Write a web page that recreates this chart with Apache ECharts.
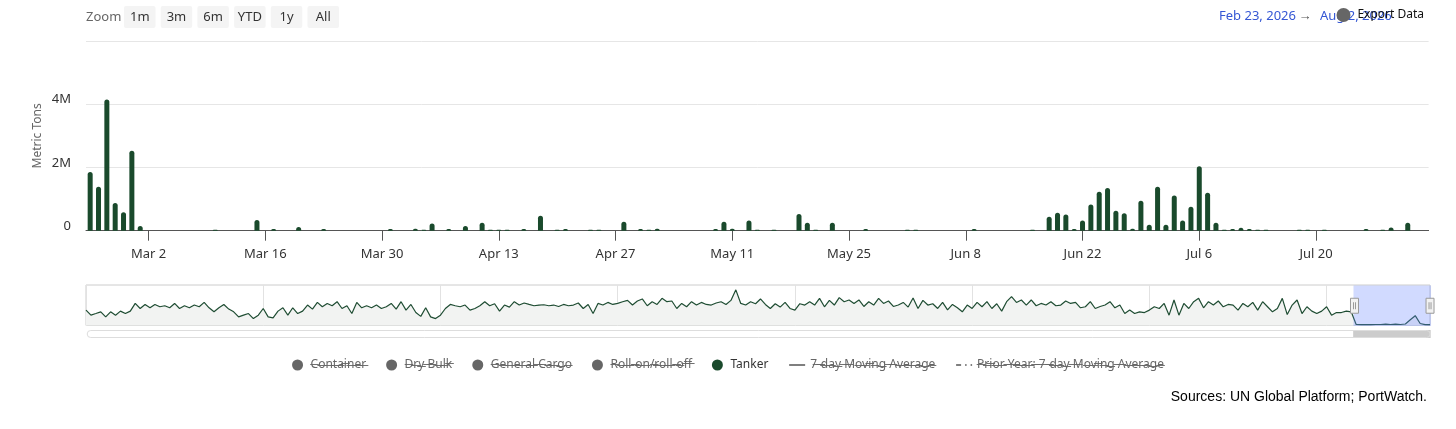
<!DOCTYPE html>
<html><head><meta charset="utf-8">
<script src="https://cdn.jsdelivr.net/npm/echarts@6/dist/echarts.min.js"></script>
<style>html,body{margin:0;padding:0;background:#fff}#chart{width:1456px;height:429px}</style>
</head><body><div id="chart"></div>
<script>
const FONT = "'Noto Sans', 'Open Sans', sans-serif";

// ---- main chart data (daily, million metric tons) ----
const startDate = '2026-02-23';
const dayCount = 161;
const tickLabels = ['Mar 2','Mar 16','Mar 30','Apr 13','Apr 27','May 11','May 25','Jun 8','Jun 22','Jul 6','Jul 20'];
const yTicks = [0, 2, 4, 6];
const tankerValues = [
  1.86,1.39,4.15,0.88,0.58,2.53,0.15,0,0,0,
  0,0,0,0,0,0.03,0,0,0,0,
  0.34,0,0.05,0,0,0.12,0,0,0.05,0,
  0,0,0,0,0,0,0.05,0,0,0.06,
  0.03,0.23,0,0.05,0,0.15,0,0.25,0.03,0.03,
  0.03,0,0.05,0,0.47,0,0.03,0.05,0,0,
  0.03,0.03,0,0,0.28,0,0.05,0.03,0.06,0,
  0,0,0,0,0,0.05,0.28,0.06,0,0.32,
  0.03,0,0.03,0,0,0.53,0.25,0.03,0,0.25,
  0,0,0,0.05,0,0,0,0,0.03,0.03,
  0,0,0,0,0,0,0.05,0,0,0,
  0,0,0,0.03,0,0.44,0.57,0.51,0.05,0.32,
  0.83,1.23,1.35,0.63,0.55,0.06,0.95,0.19,1.39,0.19,
  1.11,0.32,0.76,2.04,1.20,0.25,0.03,0.05,0.09,0.05,
  0.03,0.03,0,0,0,0.03,0.03,0,0.03,0,
  0,0,0,0.05,0,0.03,0.10,0,0.25,0,
  0
];

// ---- navigator data (1st/11th/21st of each month, 2019-01-01 .. 2026-08-01) ----
const navFirstYear = 2019;
const navLastDate = '2026-08-01';
const navValues = [
  1.52,1.02,1.18,1.35,0.85,1.35,1.02,1.42,1.18,1.42,
  2.18,1.68,2.08,1.75,2.08,1.85,1.95,1.75,2.18,1.68,
  1.95,1.75,2.02,1.85,2.28,1.75,1.35,1.75,2.08,1.62,
  1.35,0.85,1.02,1.18,0.68,1.02,1.68,0.85,0.75,1.42,
  1.75,1.02,1.75,1.18,1.42,2.02,1.62,2.28,1.85,2.18,
  1.95,2.35,1.68,1.95,1.18,2.28,1.75,1.95,1.75,2.02,
  1.68,1.85,2.18,1.62,2.35,1.52,2.08,1.28,0.90,1.75,
  0.85,0.68,1.02,1.68,2.08,1.95,1.85,2.02,1.52,1.68,
  1.95,2.35,1.95,2.15,1.42,2.02,1.82,2.35,2.02,2.22,
  2.08,1.95,2.02,2.05,1.95,2.02,1.88,2.08,1.95,2.02,
  2.22,1.68,2.08,1.18,2.18,2.02,2.28,2.08,2.18,2.35,
  2.48,2.02,2.42,2.62,1.95,2.35,2.08,2.68,2.35,2.42,
  1.68,2.18,1.85,2.35,2.02,2.28,2.08,2.02,2.22,2.35,
  2.08,2.48,3.52,2.18,2.02,2.35,2.15,2.62,2.08,1.68,
  2.15,1.82,2.28,1.68,1.52,2.15,2.02,2.35,2.02,2.68,
  1.85,2.48,2.02,2.75,2.35,2.52,2.18,2.52,1.88,2.35,
  2.02,2.68,2.18,2.42,1.88,2.02,2.28,1.82,2.72,1.68,
  2.48,2.02,2.15,1.68,2.28,1.55,2.08,1.75,1.35,2.02,
  1.68,2.28,1.85,2.35,1.68,2.15,1.42,2.35,2.85,2.28,
  2.52,2.02,2.52,1.95,2.18,2.02,2.35,1.95,2.02,2.42,
  2.18,2.28,1.75,1.85,2.35,1.68,1.88,2.02,2.35,1.75,
  2.02,1.18,1.52,1.18,1.35,1.28,1.52,1.85,1.68,2.18,
  1.02,2.52,1.02,2.18,1.68,2.35,2.68,1.75,2.35,2.02,
  2.42,1.85,2.08,2.02,1.52,2.18,1.85,2.28,1.52,2.35,
  1.85,1.35,1.68,2.68,1.08,2.02,2.52,1.18,1.85,1.42,
  1.18,1.42,1.85,1.02,1.28,1.28,1.42,1.35,0.10,0.08,
  0.10,0.08,0.10,0.10,0.13,0.10,0.13,0.10,0.15,0.57,
  0.97,0.20,0.08,0.08
];
const windowStart = '2026-02-23';
const windowEnd = '2026-08-02';

// ---- texts ----
const zoomButtons = ['1m','3m','6m','YTD','1y','All'];
const legendNames = ['Container','Dry Bulk','General Cargo','Roll-on/roll-off','Tanker','7-day Moving Average','Prior Year: 7-day Moving Average'];
const visibleSeries = ['Tanker'];
const rangeFrom = 'Feb 23, 2026';
const rangeTo = 'Aug 2, 2026';
const sourcesText = 'Sources: UN Global Platform; PortWatch.';

// ---- helpers ----
const MONTHS = ['Jan','Feb','Mar','Apr','May','Jun','Jul','Aug','Sep','Oct','Nov','Dec'];
const DAY = 86400000;
const toT = iso => Date.parse(iso + 'T00:00:00Z');
const isoDay = t => new Date(t).toISOString().slice(0, 10);
const shortLabel = iso => { const d = new Date(toT(iso)); return MONTHS[d.getUTCMonth()] + ' ' + d.getUTCDate(); };

const categories = [];
for (let k = 0; k < dayCount; k++) categories.push(isoDay(toT(startDate) + k * DAY));
const isTick = (i, v) => tickLabels.indexOf(shortLabel(v)) >= 0;

const navDates = [];
for (let y = navFirstYear; y <= 2026; y++) {
  for (let m = 1; m <= 12; m++) {
    for (const dd of [1, 11, 21]) {
      const iso = y + '-' + String(m).padStart(2, '0') + '-' + String(dd).padStart(2, '0');
      if (iso <= navLastDate) navDates.push(iso);
    }
  }
}
function navPercent(iso) {
  const t = toT(iso), n = navDates.length;
  for (let i = 0; i < n - 1; i++) {
    const a = toT(navDates[i]), b = toT(navDates[i + 1]);
    if (t >= a && t < b) return (i + (t - a) / (b - a)) / (n - 1) * 100;
  }
  return 100;
}
const strike = s => Array.from(s).map(c => c + '\u0336').join('');
const selected = {};
legendNames.forEach(n => { selected[n] = visibleSeries.indexOf(n) >= 0; });

// ---- header graphics ----
const graphics = [
  { type: 'text', x: 86, y: 17, style: { text: 'Zoom', fill: '#666', font: '13px ' + FONT, verticalAlign: 'middle' } }
];
zoomButtons.forEach((b, k) => {
  const x0 = 124 + k * 36.7;
  graphics.push({ type: 'rect', shape: { x: x0, y: 6, width: 31.5, height: 22, r: 2 }, style: { fill: '#f4f4f4' } });
  graphics.push({ type: 'text', x: x0 + 15.75, y: 17, style: { text: b, fill: '#333', font: '13px ' + FONT, align: 'center', verticalAlign: 'middle' } });
});
graphics.push(
  { type: 'text', x: 1219, y: 16, style: { text: rangeFrom, fill: '#3557d4', font: '13px ' + FONT, verticalAlign: 'middle' } },
  { type: 'text', x: 1305, y: 16, style: { text: '\u2192', fill: '#555', font: '13px ' + FONT, align: 'center', verticalAlign: 'middle' } },
  { type: 'text', x: 1320, y: 16, style: { text: rangeTo, fill: '#3557d4', font: '13px ' + FONT, verticalAlign: 'middle' } },
  { type: 'circle', shape: { cx: 1343.5, cy: 15, r: 7 }, style: { fill: '#666' } },
  { type: 'text', x: 1424, y: 15, style: { text: 'Export Data', fill: '#111', font: '12px ' + FONT, align: 'right', verticalAlign: 'middle' } },
  { type: 'text', x: 1427, y: 397, style: { text: sourcesText, fill: '#000', font: '14px "Liberation Sans", Arial, sans-serif', align: 'right', verticalAlign: 'middle' } }
);

const series = [];
legendNames.forEach(n => {
  if (n === 'Tanker') {
    series.push({ name: n, type: 'bar', xAxisIndex: 0, yAxisIndex: 0, data: tankerValues, barWidth: 5,
      itemStyle: { color: '#1a4a2c', borderRadius: [2.5, 2.5, 0, 0] } });
  } else if (n === '7-day Moving Average') {
    series.push({ name: n, type: 'line', xAxisIndex: 0, yAxisIndex: 0, data: [], symbol: 'none', lineStyle: { color: '#333', width: 1.5 } });
  } else if (n.indexOf('Prior Year') === 0) {
    series.push({ name: n, type: 'line', xAxisIndex: 0, yAxisIndex: 0, data: [], symbol: 'none', lineStyle: { color: '#333', width: 1.5, type: [5, 4, 1.5, 4] } });
  } else {
    series.push({ name: n, type: 'bar', xAxisIndex: 0, yAxisIndex: 0, data: [], itemStyle: { color: '#666' } });
  }
});
series.push({ name: 'navigator', type: 'line', xAxisIndex: 1, yAxisIndex: 1, data: navValues, symbol: 'none', silent: true,
  lineStyle: { color: '#1f4d33', width: 1.2 }, areaStyle: { color: '#f2f3f2', opacity: 1 } });

const legendData = legendNames.map(n => {
  if (n === '7-day Moving Average') return { name: n, itemStyle: { opacity: 0 }, lineStyle: { type: 'solid' } };
  if (n.indexOf('Prior Year') === 0) return { name: n, itemStyle: { opacity: 0 }, lineStyle: { type: [5, 4, 1.5, 4] } };
  return { name: n, icon: 'circle' };
});

const option = {
  animation: false,
  textStyle: { fontFamily: FONT },
  graphic: graphics,
  grid: [
    { left: 86, right: 27.4, top: 41, bottom: 198.3 },
    { left: 86, right: 26, top: 285, height: 40.5, show: true, borderColor: '#cccccc', borderWidth: 1, backgroundColor: 'transparent' }
  ],
  xAxis: [
    { type: 'category', gridIndex: 0, data: categories, boundaryGap: true,
      axisLine: { lineStyle: { color: '#555', width: 1 } },
      axisTick: { show: true, alignWithLabel: true, interval: isTick, length: 10, lineStyle: { color: '#555' } },
      axisLabel: { interval: isTick, formatter: shortLabel, color: '#333', fontSize: 13, margin: 17, fontFamily: FONT },
      splitLine: { show: false } },
    { type: 'category', gridIndex: 1, data: navDates, boundaryGap: false,
      axisLine: { show: false }, axisTick: { show: false }, axisLabel: { show: false },
      splitLine: { show: true, interval: (i, v) => v.slice(5) === '01-01', lineStyle: { color: '#e2e2e2' } } },
    { type: 'category', gridIndex: 1, data: navDates, boundaryGap: false, show: false }
  ],
  yAxis: [
    { type: 'value', gridIndex: 0, min: yTicks[0], max: yTicks[yTicks.length - 1], interval: yTicks[1] - yTicks[0],
      name: 'Metric Tons', nameLocation: 'middle', nameGap: 42, nameMoveOverlap: false,
      nameTextStyle: { color: '#666', fontSize: 12, fontFamily: FONT },
      axisLabel: { showMaxLabel: false, formatter: v => v === 0 ? '0' : v + 'M', color: '#333', fontSize: 13, margin: 15,
        verticalAlign: 'bottom', lineHeight: 9, fontFamily: FONT },
      splitLine: { lineStyle: { color: '#e6e6e6' } }, axisLine: { show: false }, axisTick: { show: false } },
    { type: 'value', gridIndex: 1, min: 0, max: 4, show: false, splitLine: { show: false } }
  ],
  legend: {
    data: legendData,
    selected: selected,
    top: 354, left: 'center', itemGap: 20, itemWidth: 16, itemHeight: 11,
    inactiveColor: '#666', inactiveBorderColor: '#666',
    lineStyle: { inactiveColor: '#555', inactiveWidth: 1.5 },
    textStyle: { color: '#333', fontSize: 12, fontFamily: FONT },
    formatter: n => (selected[n] ? n : strike(n))
  },
  dataZoom: [
    { type: 'slider', xAxisIndex: 2, left: 86, right: 26, top: 285, height: 40.5,
      start: navPercent(windowStart), end: navPercent(windowEnd),
      showDataShadow: false, showDetail: false, brushSelect: false, filterMode: 'none',
      backgroundColor: 'rgba(0,0,0,0)', borderColor: 'transparent',
      fillerColor: 'rgba(102,133,255,0.3)', moveHandleSize: 0,
      handleIcon: 'path://M0,0 L8,0 L8,15 L0,15 Z M3,4 L3,11 M5,4 L5,11', handleSize: '37%',
      handleStyle: { color: '#f2f2f2', borderColor: '#999', borderWidth: 1 } },
    { type: 'slider', xAxisIndex: 2, left: 86, right: 26, top: 330, height: 8,
      start: navPercent(windowStart), end: navPercent(windowEnd),
      showDataShadow: false, showDetail: false, brushSelect: false, filterMode: 'none',
      backgroundColor: '#fff', borderColor: '#ddd', borderRadius: 4,
      fillerColor: '#cccccc', moveHandleSize: 0, handleSize: 0, handleStyle: { opacity: 0 } }
  ],
  series: series
};

const chart = echarts.init(document.getElementById('chart'));
chart.setOption(option);
</script>
</body></html>
